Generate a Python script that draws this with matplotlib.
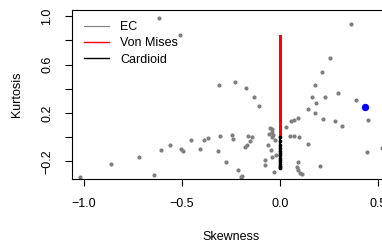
import matplotlib
matplotlib.use("Agg")
import matplotlib.pyplot as plt

plt.rcParams['font.family'] = ['Liberation Sans', 'DejaVu Sans']

# empirical skewness / kurtosis (grey points)
skew = [-0.619, -0.509, -0.311, -0.228, -0.172, -0.133, -0.106, 0.364, 0.257, 0.214,
        0.180, 0.163, 0.231, 0.296, 0.182, 0.143, 0.180, 0.386, 0.449, 0.221,
        0.279, 0.056, 0.073, 0.090, 0.318, 0.029, 0.051, 0.073, 0.098, 0.141,
        0.444, 0.520, 0.093, 0.085, 0.093, 0.102, 0.111, 0.206, -1.019, -0.861,
        -0.719, -0.641, -0.606, -0.560, -0.503, -0.493, -0.452, -0.408, -0.386, -0.366,
        -0.306, -0.316, -0.246, -0.241, -0.277, -0.216, -0.194, -0.201, -0.162, -0.144,
        -0.153, -0.170, -0.179, -0.079, -0.077, -0.051, -0.042, -0.055, -0.034, -0.042,
        -0.060, -0.047, -0.041, -0.020, -0.029, -0.039, -0.026]
kurt = [0.988, 0.845, 0.435, 0.460, 0.407, 0.333, 0.261, 0.934, 0.658, 0.540,
        0.435, 0.329, 0.336, 0.366, 0.281, 0.230, 0.203, 0.304, 0.140, 0.151,
        0.131, 0.131, 0.143, 0.157, 0.091, 0.085, 0.011, 0.011, 0.000, -0.055,
        -0.121, -0.091, -0.208, -0.245, -0.274, -0.293, -0.306, -0.240, -0.332, -0.221,
        -0.164, -0.312, -0.109, -0.064, -0.097, -0.111, -0.024, -0.097, -0.022, -0.006,
        0.011, -0.116, 0.021, -0.014, -0.204, -0.268, -0.320, -0.331, 0.011, 0.000,
        -0.033, -0.066, -0.078, -0.188, -0.233, 0.074, 0.046, 0.027, 0.019, 0.000,
        -0.064, -0.105, -0.167, -0.146, -0.284, 0.069, -0.022]

# highlighted sample
obs_skew = [0.434]
obs_kurt = [0.248]

# von Mises and cardioid families (skewness 0)
vm_skew = [0.0, 0.0]
vm_kurt = [0.0, 0.84]
card_kurt = [0.0, -0.03, -0.06, -0.09, -0.11, -0.13, -0.15, -0.17, -0.19,
             -0.205, -0.22, -0.235, -0.245, -0.254]
card_skew = [0.0] * len(card_kurt)

fig = plt.figure(figsize=(3.82, 2.47), dpi=100)
ax = fig.add_axes([72/382, 1-179/247, 318/382, 169/247])

ax.scatter(skew, kurt, s=9, color='#7f7f7f', linewidths=0, zorder=2)
ax.plot(vm_skew, vm_kurt, color='red', lw=2.2, zorder=3)
ax.plot(card_skew, card_kurt, color='black', lw=1.6, marker='o', ms=1.6, zorder=3)
ax.scatter(obs_skew, obs_kurt, s=28, color='blue', linewidths=0, zorder=4)

ax.set_xlim(-1.061, 0.561)
ax.set_ylim(-0.345, 1.052)

ax.set_xticks([-1.0, -0.5, 0.0, 0.5])
ax.set_xticklabels(['\u22121.0', '\u22120.5', '0.0', '0.5'])
ax.set_yticks([-0.2, 0.0, 0.2, 0.4, 0.6, 0.8, 1.0])
ax.set_yticklabels(['\u22120.2', '', '0.2', '', '0.6', '', '1.0'], rotation=90, va='center')
ax.tick_params(labelsize=9, length=5, width=0.8, pad=8.5)
for sp in ax.spines.values():
    sp.set_linewidth(0.8)

ax.set_xlabel('Skewness', fontsize=9, labelpad=15)
ax.set_ylabel('Kurtosis', fontsize=9, labelpad=13)

h1, = ax.plot([], [], color='#7f7f7f', lw=0.8)
h2, = ax.plot([], [], color='red', lw=1.0)
h3, = ax.plot([], [], color='black', lw=1.0)
ax.legend([h1, h2, h3], ['EC', 'Von Mises', 'Cardioid'], loc='upper left',
          bbox_to_anchor=(84/382, 1-21/247), bbox_transform=fig.transFigure,
          frameon=False, fontsize=9, handlelength=2.0, handletextpad=0.9,
          labelspacing=0.35, borderpad=0, borderaxespad=0)

fig.savefig('out.png', dpi=100)
